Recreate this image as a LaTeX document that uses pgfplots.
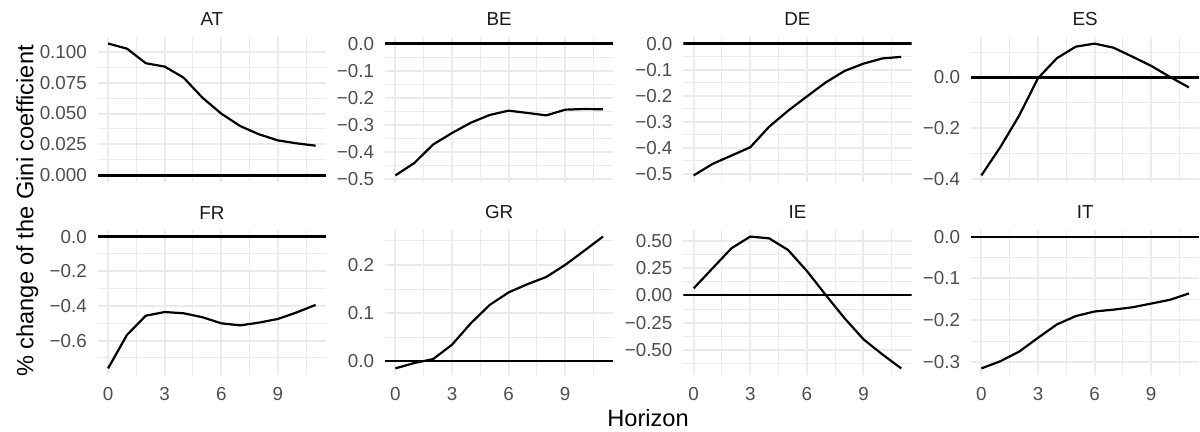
\documentclass[border=0pt]{standalone}
\usepackage{fontspec}
\setmainfont{Liberation Sans}
\usepackage{pgfplots}
\pgfplotsset{compat=1.18}
\definecolor{ggrid}{HTML}{EBEBEB}
\definecolor{gtick}{HTML}{4D4D4D}
\definecolor{gstrip}{HTML}{1A1A1A}
\pgfplotsset{
  every axis title/.style={at={(0.5,1)}, anchor=base, yshift=5.5pt, inner sep=0pt,
      font=\fontsize{9.4}{11}\selectfont, color=gstrip},
  gg/.style={
    scale only axis, width=114.15pt, height=72.5pt, anchor=south west,
    xmin=-0.55, xmax=11.55,
    xtick={0,3,6,9}, minor xtick={1.5,4.5,7.5,10.5},
    axis line style={draw=none},
    major tick length=0pt, minor tick length=0pt,
    grid=both,
    major grid style={color=ggrid, line width=1pt},
    minor grid style={color=ggrid, line width=0.5pt},
    tick label style={font=\fontsize{9.4}{11}\selectfont, color=gtick},
    yticklabel style={anchor=east, inner sep=0pt, xshift=-5.25pt},
    xticklabel style={anchor=base, inner sep=0pt, yshift=-12.85pt},
    clip=true,
  },
  top/.style={xticklabels={{},{},{},{}}},
  bot/.style={xticklabels={0,3,6,9}},
  zl/.style={black, line width=1.1pt, forget plot},
  dl/.style={black, line width=1.1pt, line join=round},
}
\begin{document}
\begin{tikzpicture}
\useasboundingbox (0,0) rectangle (600pt,216pt);
% ---------- AT ----------
\begin{axis}[gg, top, at={(48.85pt,125pt)}, title={AT},
  ymin=-0.0053, ymax=0.1118,
  ytick={0,0.025,0.05,0.075,0.1},
  yticklabels={0.000,0.025,0.050,0.075,0.100},
  minor ytick={0.0125,0.0375,0.0625,0.0875}]
\addplot[zl] coordinates {(-0.55,0) (11.55,0)};
\addplot[dl] coordinates {(0,0.1065) (1,0.1024) (2,0.0906) (3,0.0879) (4,0.0790) (5,0.0628) (6,0.0499) (7,0.0399) (8,0.0332) (9,0.0283) (10,0.0259) (11,0.0240)};
\end{axis}
% ---------- BE ----------
\begin{axis}[gg, top, at={(192.5pt,125pt)}, title={BE},
  ymin=-0.5108, ymax=0.0243,
  ytick={-0.5,-0.4,-0.3,-0.2,-0.1,0},
  yticklabels={−0.5,−0.4,−0.3,−0.2,−0.1,0.0},
  minor ytick={-0.45,-0.35,-0.25,-0.15,-0.05}]
\addplot[zl] coordinates {(-0.55,0) (11.55,0)};
\addplot[dl] coordinates {(0,-0.4865) (1,-0.441) (2,-0.3725) (3,-0.330) (4,-0.292) (5,-0.2635) (6,-0.2475) (7,-0.256) (8,-0.265) (9,-0.244) (10,-0.2414) (11,-0.2426)};
\end{axis}
% ---------- DE ----------
\begin{axis}[gg, top, at={(341.65pt,125pt)}, title={DE},
  ymin=-0.5313, ymax=0.0253,
  ytick={-0.5,-0.4,-0.3,-0.2,-0.1,0},
  yticklabels={−0.5,−0.4,−0.3,−0.2,−0.1,0.0},
  minor ytick={-0.45,-0.35,-0.25,-0.15,-0.05}]
\addplot[zl] coordinates {(-0.55,0) (11.55,0)};
\addplot[dl] coordinates {(0,-0.506) (1,-0.462) (2,-0.430) (3,-0.398) (4,-0.319) (5,-0.258) (6,-0.203) (7,-0.149) (8,-0.105) (9,-0.077) (10,-0.057) (11,-0.051)};
\end{axis}
% ---------- ES ----------
\begin{axis}[gg, top, at={(485.5pt,125pt)}, title={ES},
  ymin=-0.4105, ymax=0.159,
  ytick={-0.4,-0.2,0},
  yticklabels={−0.4,−0.2,0.0},
  minor ytick={-0.3,-0.1,0.1}]
\addplot[zl] coordinates {(-0.55,0) (11.55,0)};
\addplot[dl] coordinates {(0,-0.3846) (1,-0.274) (2,-0.150) (3,-0.003) (4,0.0756) (5,0.121) (6,0.133) (7,0.117) (8,0.082) (9,0.0456) (10,0.002) (11,-0.039)};
\end{axis}
% ---------- FR ----------
\begin{axis}[gg, bot, at={(48.85pt,28.5pt)}, title={FR},
  ymin=-0.798, ymax=0.038,
  ytick={-0.6,-0.4,-0.2,0},
  yticklabels={−0.6,−0.4,−0.2,0.0},
  minor ytick={-0.7,-0.5,-0.3,-0.1}]
\addplot[zl] coordinates {(-0.55,0) (11.55,0)};
\addplot[dl] coordinates {(0,-0.760) (1,-0.567) (2,-0.456) (3,-0.435) (4,-0.442) (5,-0.465) (6,-0.500) (7,-0.512) (8,-0.496) (9,-0.475) (10,-0.437) (11,-0.394)};
\end{axis}
% ---------- GR ----------
\begin{axis}[gg, bot, at={(192.5pt,28.5pt)}, title={GR},
  ymin=-0.0282, ymax=0.2723,
  ytick={0,0.1,0.2},
  yticklabels={0.0,0.1,0.2},
  minor ytick={0.05,0.15,0.25}]
\addplot[zl] coordinates {(-0.55,0) (11.55,0)};
\addplot[dl] coordinates {(0,-0.0145) (1,-0.0034) (2,0.0048) (3,0.0345) (4,0.079) (5,0.117) (6,0.143) (7,0.160) (8,0.175) (9,0.200) (10,0.229) (11,0.2586)};
\end{axis}
% ---------- IE ----------
\begin{axis}[gg, bot, at={(341.65pt,28.5pt)}, title={IE},
  ymin=-0.7283, ymax=0.5973,
  ytick={-0.5,-0.25,0,0.25,0.5},
  yticklabels={−0.50,−0.25,0.00,0.25,0.50},
  minor ytick={-0.625,-0.375,-0.125,0.125,0.375}]
\addplot[zl] coordinates {(-0.55,0) (11.55,0)};
\addplot[dl] coordinates {(0,0.064) (1,0.247) (2,0.430) (3,0.537) (4,0.521) (5,0.415) (6,0.2226) (7,0.003) (8,-0.210) (9,-0.402) (10,-0.540) (11,-0.668)};
\end{axis}
% ---------- IT ----------
\begin{axis}[gg, bot, at={(485.5pt,28.5pt)}, title={IT},
  ymin=-0.3308, ymax=0.0158,
  ytick={-0.3,-0.2,-0.1,0},
  yticklabels={−0.3,−0.2,−0.1,0.0},
  minor ytick={-0.25,-0.15,-0.05}]
\addplot[zl] coordinates {(-0.55,0) (11.55,0)};
\addplot[dl] coordinates {(0,-0.315) (1,-0.298) (2,-0.275) (3,-0.242) (4,-0.210) (5,-0.190) (6,-0.179) (7,-0.1746) (8,-0.169) (9,-0.160) (10,-0.151) (11,-0.136)};
\end{axis}
% ---------- shared titles ----------
\node[rotate=90, anchor=base, inner sep=0pt, font=\fontsize{11.8}{14}\selectfont] at (16.65pt,110.5pt) {\% change of the Gini coefficient};
\node[anchor=base, inner sep=0pt, font=\fontsize{11.8}{14}\selectfont] at (324pt,2.65pt) {Horizon};
\end{tikzpicture}
\end{document}
